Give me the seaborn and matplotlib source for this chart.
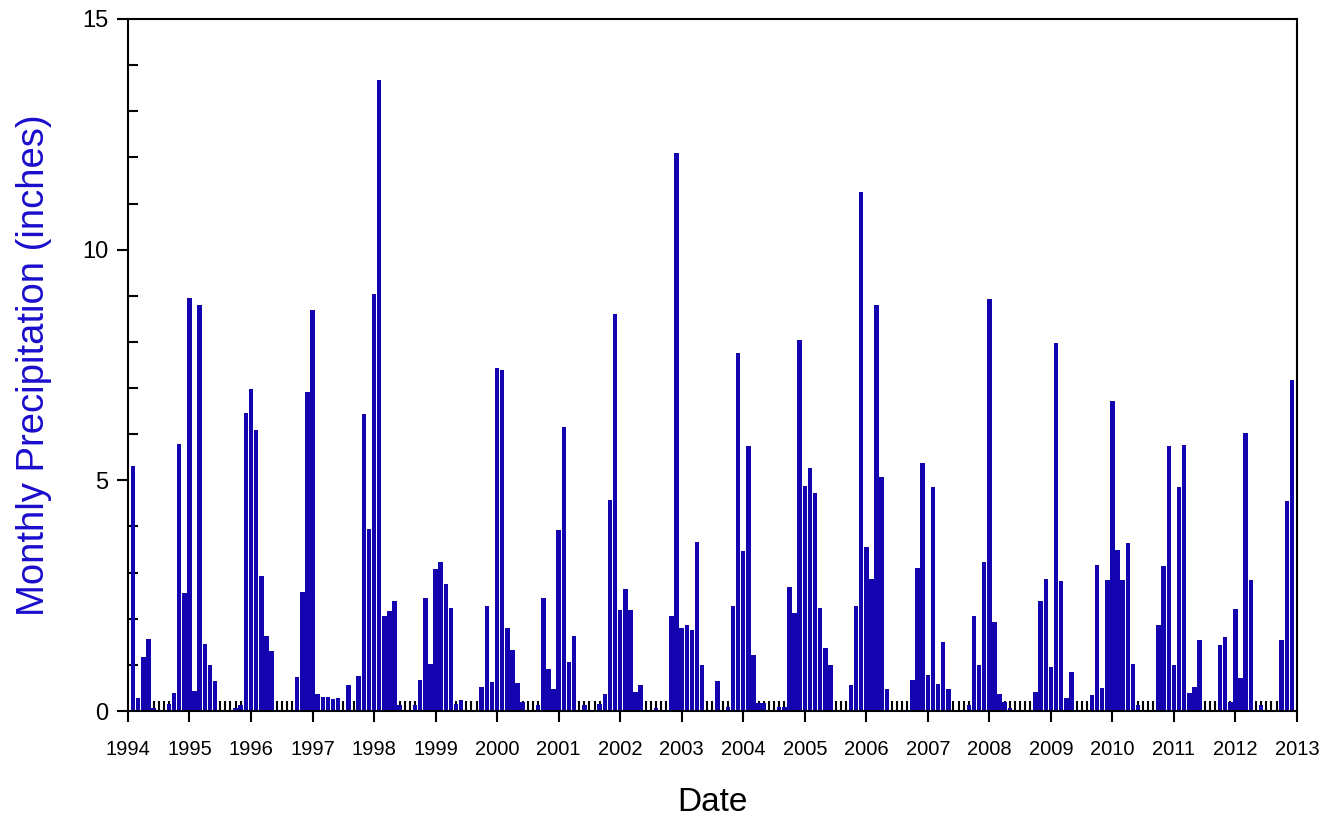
import matplotlib
matplotlib.use("Agg")
import matplotlib.pyplot as plt
import numpy as np
import pandas as pd
import seaborn as sns

# monthly precipitation (inches), one value per month, bars drawn at month end
precip = [
    5.32, 0.29, 1.18, 1.57, 0.07, 0.00, 0.00, 0.15, 0.38, 5.79, 2.55, 8.96,  # 1994
    0.43, 8.81, 1.46, 0.99, 0.66, 0.00, 0.00, 0.00, 0.07, 0.14, 6.46, 6.97,  # 1995
    6.09, 2.93, 1.62, 1.29, 0.00, 0.00, 0.00, 0.00, 0.73, 2.59, 6.91, 8.70,  # 1996
    0.36, 0.31, 0.31, 0.27, 0.29, 0.00, 0.57, 0.00, 0.75, 6.44, 3.95, 9.04,  # 1997
    13.67, 2.06, 2.17, 2.39, 0.12, 0.00, 0.00, 0.14, 0.67, 2.46, 1.02, 3.07,  # 1998
    3.22, 2.75, 2.24, 0.16, 0.23, 0.00, 0.00, 0.00, 0.53, 2.27, 0.62, 7.43,  # 1999
    7.40, 1.79, 1.33, 0.61, 0.19, 0.00, 0.00, 0.12, 2.44, 0.90, 0.48, 3.93,  # 2000
    6.16, 1.07, 1.62, 0.00, 0.12, 0.00, 0.00, 0.15, 0.37, 4.58, 8.61, 2.18,  # 2001
    2.65, 2.18, 0.41, 0.57, 0.00, 0.00, 0.06, 0.00, 0.00, 2.06, 12.10, 1.81,  # 2002
    1.86, 1.76, 3.66, 0.99, 0.00, 0.00, 0.66, 0.00, 0.09, 2.27, 7.75, 3.46,  # 2003
    5.74, 1.22, 0.18, 0.18, 0.00, 0.00, 0.09, 0.09, 2.68, 2.12, 8.04, 4.87,  # 2004
    5.26, 4.73, 2.24, 1.37, 0.99, 0.00, 0.00, 0.00, 0.57, 2.27, 11.25, 3.56,  # 2005
    2.86, 8.80, 5.07, 0.47, 0.00, 0.00, 0.00, 0.00, 0.68, 3.10, 5.37, 0.77,  # 2006
    4.85, 0.58, 1.49, 0.48, 0.00, 0.00, 0.00, 0.14, 2.06, 1.00, 3.22, 8.93,  # 2007
    1.92, 0.37, 0.19, 0.07, 0.00, 0.00, 0.00, 0.00, 0.41, 2.38, 2.87, 0.96,  # 2008
    7.98, 2.81, 0.29, 0.85, 0.00, 0.00, 0.00, 0.34, 3.17, 0.50, 2.83, 6.72,  # 2009
    3.49, 2.85, 3.64, 1.01, 0.12, 0.00, 0.00, 0.00, 1.86, 3.15, 5.75, 0.99,  # 2010
    4.85, 5.76, 0.38, 0.52, 1.54, 0.00, 0.00, 0.00, 1.44, 1.60, 0.19, 2.22,  # 2011
    0.72, 6.03, 2.84, 0.00, 0.14, 0.00, 0.00, 0.00, 1.53, 4.56, 7.18,        # 2012
]
month_index = list(range(1, len(precip) + 1))
year_labels = [str(y) for y in range(1994, 2014)]
y_ticks = [0, 5, 10, 15]

BAR_COLOR = "#1404B0"
LABEL_COLOR = "#1A0DCC"

sns.set_theme(style="ticks")
plt.rcParams["font.family"] = ["Liberation Sans", "DejaVu Sans"]
plt.rcParams.update({"text.color": "black", "axes.labelcolor": "black",
                     "xtick.color": "black", "ytick.color": "black"})

df = pd.DataFrame({"month": month_index, "precip": precip})

fig = plt.figure(figsize=(13.41, 8.18), dpi=100)
ax = fig.add_axes([0.0954, 0.1308, 0.8718, 0.846])

sns.barplot(
    data=df, x="month", y="precip", native_scale=True, color=BAR_COLOR,
    saturation=1, width=0.88, errorbar=None, linewidth=0, ax=ax,
)

ax.set_xlim(0, 12 * (len(year_labels) - 1))
ax.set_ylim(0, 15)
ax.set_xticks(range(0, 12 * len(year_labels), 12), year_labels)
ax.set_xticks(range(0, 12 * (len(year_labels) - 1) + 1), minor=True)
ax.set_yticks(y_ticks, [str(t) for t in y_ticks])
ax.set_yticks(range(0, 16), minor=True)
ax.set_axisbelow(True)

for s in ax.spines.values():
    s.set_linewidth(1.5)
    s.set_color("black")

ax.tick_params(which="major", direction="out", length=8, width=1.5, color="black")
ax.tick_params(which="minor", direction="in", length=7, width=1.5, color="black")
ax.tick_params(axis="x", which="major", labelsize=14.5, pad=13, labelcolor="black")
ax.tick_params(axis="y", which="major", labelsize=17, pad=6, labelcolor="black")

ax.set_xlabel("Date", fontsize=24, labelpad=20, color="black")
ax.set_ylabel("Monthly Precipitation (inches)", fontsize=27.5, color=LABEL_COLOR, labelpad=22)

fig.savefig("out.png", dpi=100)
